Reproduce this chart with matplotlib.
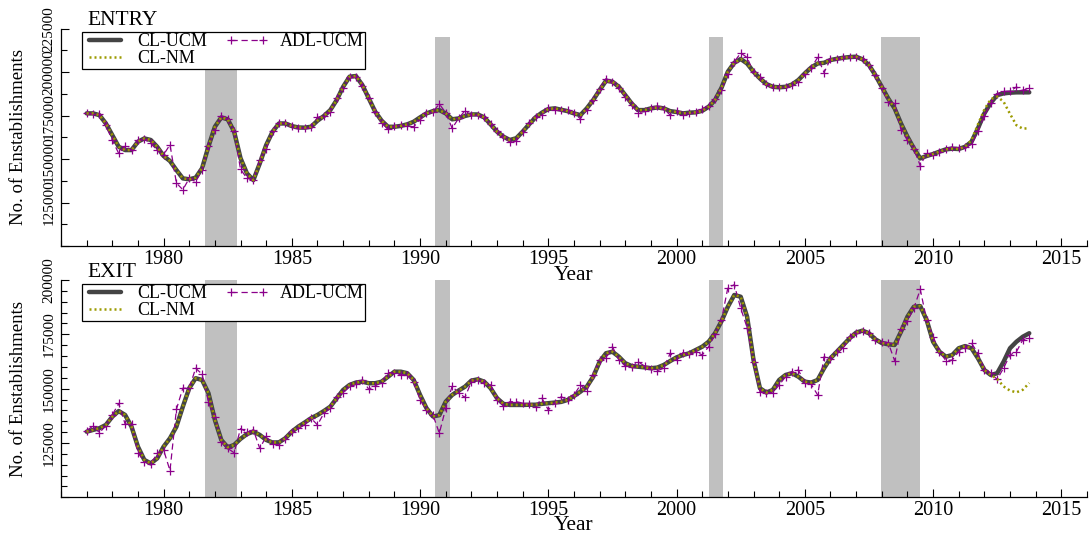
import numpy as np
import matplotlib
matplotlib.use("Agg")
import matplotlib.pyplot as plt
from matplotlib.ticker import MultipleLocator, FuncFormatter

plt.rcParams['font.family'] = ['Liberation Serif', 'DejaVu Serif']

# quarterly observations, 1977Q1 - 2013Q4 (values in thousands of establishments)
quarters = 1977 + np.arange(148) / 4.0

entry_cl_ucm = [
    176.3, 176.3, 175.3, 170.5,  163.8, 157.1, 155.2, 155.2,  160.0, 161.9, 161.0, 157.1,
    151.8, 148.9, 143.7, 138.9,  138.4, 139.3, 144.7, 157.3,  168.6, 174.0, 172.9, 165.8,
    150.5, 141.8, 137.9, 147.5,  158.1, 165.8, 170.5, 170.5,  169.0, 168.2, 168.1, 168.6,
    172.1, 174.8, 178.2, 184.0,  191.6, 197.4, 197.8, 192.6,  184.9, 177.3, 172.1, 168.6,
    168.6, 169.1, 170.0, 171.5,  174.0, 176.3, 177.6, 178.2,  176.3, 172.9, 173.4, 174.8,
    175.7, 175.7, 174.0, 170.0,  165.8, 162.9, 161.0, 162.0,  165.8, 170.0, 174.0, 176.7,
    178.8, 179.2, 178.4, 177.6,  176.3, 175.3, 179.2, 184.0,  189.7, 195.1, 194.5, 191.6,
    186.8, 182.0, 178.2, 178.2,  179.2, 179.7, 179.2, 177.6,  177.1, 176.3, 176.7, 176.9,
    177.8, 180.1, 184.0, 191.0,  200.3, 205.4, 207.6, 205.0,  200.3, 196.4, 193.2, 191.6,
    191.3, 191.6, 192.9, 195.5,  199.3, 202.7, 205.0, 205.4,  207.0, 207.7, 208.3, 208.7,
    208.9, 207.4, 204.1, 198.3,  191.6, 184.9, 179.2, 170.5,  162.9, 156.2, 150.4, 151.8,
    152.9, 154.3, 155.6, 156.0,  155.8, 157.1, 160.0, 167.7,  176.3, 182.4, 186.8, 187.8,
    188.2, 188.4, 188.4, 188.4,
]
entry_adl_ucm = [
    176.3, 175.9, 175.9, 169.5,  160.9, 153.3, 157.5, 155.2,  160.9, 161.5, 159.0, 155.2,
    152.5, 158.3, 136.2, 132.4,  138.9, 137.0, 143.7, 157.5,  166.7, 175.0, 172.9, 166.0,
    144.1, 139.0, 138.0, 149.5,  156.0, 166.0, 171.0, 170.5,  169.0, 168.0, 168.0, 168.5,
    174.0, 175.0, 177.0, 185.0,  191.0, 197.5, 197.5, 192.0,  185.0, 177.0, 171.0, 167.1,
    169.0, 169.5, 169.0, 168.6,  172.6, 176.3, 177.3, 181.7,  176.7, 167.7, 173.4, 177.8,
    175.3, 175.5, 174.0, 170.0,  166.0, 162.5, 160.0, 160.5,  165.8, 170.5, 174.4, 175.5,
    179.6, 178.5, 178.5, 178.0,  176.5, 173.2, 178.5, 184.0,  190.5, 196.2, 194.5, 191.0,
    186.0, 181.0, 176.7, 177.5,  179.5, 180.5, 179.0, 175.3,  177.5, 175.5, 176.7, 177.0,
    179.0, 180.5, 184.5, 190.0,  199.0, 206.0, 211.0, 208.5,  200.0, 197.5, 193.0, 191.5,
    191.5, 191.7, 192.7, 194.5,  199.0, 202.5, 208.5, 199.8,  207.5, 207.5, 208.5, 208.7,
    209.0, 207.5, 204.0, 198.5,  191.0, 183.0, 182.0, 166.8,  161.0, 156.0, 146.2, 153.5,
    152.5, 154.0, 156.0, 157.0,  156.5, 157.0, 158.5, 166.0,  175.0, 182.0, 187.5, 189.0,
    189.0, 191.5, 189.5, 191.0,
]
# CL-NM coincides with CL-UCM until 2011Q3, then turns down
entry_cl_nm = entry_cl_ucm[:138] + [161.0, 170.0, 178.5, 184.5, 186.0, 183.0, 176.0, 169.5, 167.5, 167.8]

exit_cl_ucm = [
    130.2, 131.0, 131.8, 133.3,  137.1, 139.7, 137.9, 132.5,  123.3, 117.2, 115.6, 117.9,
    123.3, 127.2, 132.5, 141.7,  150.2, 154.8, 154.0, 147.9,  135.6, 126.4, 123.0, 124.1,
    126.9, 129.1, 130.2, 128.7,  126.4, 125.2, 125.3, 127.2,  130.2, 132.5, 134.4, 136.4,
    137.9, 139.7, 141.7, 145.6,  149.4, 151.7, 152.8, 153.2,  152.5, 152.5, 153.2, 155.5,
    157.8, 157.8, 157.1, 154.0,  147.1, 141.0, 137.2, 137.8,  144.0, 147.1, 149.1, 150.9,
    153.7, 154.3, 153.2, 150.2,  145.6, 143.0, 142.5, 142.5,  142.5, 142.6, 142.6, 143.0,
    143.3, 143.6, 143.9, 144.8,  146.6, 148.6, 150.9, 155.5,  162.4, 166.3, 167.0, 164.7,
    161.7, 160.4, 160.1, 159.8,  159.4, 159.7, 160.9, 162.7,  164.4, 165.5, 166.3, 167.8,
    169.3, 171.6, 175.5, 181.0,  187.7, 193.1, 192.3, 183.1,  163.2, 150.2, 148.2, 149.4,
    154.0, 156.3, 157.1, 155.5,  153.2, 152.8, 154.0, 159.4,  164.0, 167.0, 170.1, 173.2,
    175.8, 176.7, 175.5, 172.7,  171.0, 170.4, 170.1, 176.2,  183.1, 187.7, 188.0, 181.6,
    171.6, 167.0, 164.7, 165.5,  168.6, 169.6, 168.6, 164.0,  158.6, 156.3, 157.1, 162.4,
    168.6, 171.6, 173.9, 175.5,
]
exit_adl_ucm = [
    130.7, 132.8, 129.7, 133.0,  137.9, 143.2, 133.7, 133.7,  120.5, 116.4, 115.3, 120.2,
    121.8, 112.3, 140.5, 150.2,  150.2, 159.4, 156.7, 144.0,  137.1, 125.6, 122.5, 120.5,
    131.6, 130.0, 131.0, 122.5,  128.0, 124.5, 124.1, 127.0,  130.0, 131.8, 133.3, 136.4,
    133.3, 138.7, 141.0, 146.3,  148.0, 151.0, 152.0, 154.0,  149.7, 151.3, 152.8, 157.4,
    157.2, 156.4, 156.4, 153.2,  145.0, 140.0, 138.0, 129.5,  141.0, 151.2, 148.0, 146.0,
    153.2, 154.0, 152.8, 151.7,  144.8, 142.2, 144.0, 144.0,  143.3, 143.0, 141.7, 145.6,
    140.2, 143.5, 146.3, 144.8,  147.0, 151.7, 149.1, 156.3,  163.2, 164.0, 169.3, 163.2,
    160.4, 160.1, 162.4, 160.4,  158.9, 158.3, 159.4, 166.3,  163.2, 166.6, 166.0, 167.0,
    165.5, 169.3, 175.0, 181.6,  196.5, 197.8, 187.0, 178.1,  162.4, 148.6, 148.2, 148.1,
    151.7, 155.5, 157.7, 158.6,  152.5, 152.0, 147.1, 164.7,  163.5, 166.8, 168.5, 174.0,
    175.5, 176.5, 175.5, 172.4,  171.6, 171.2, 162.9, 177.6,  181.1, 187.0, 195.7, 181.6,
    174.0, 167.0, 162.9, 163.2,  167.0, 168.6, 170.9, 166.3,  158.6, 157.0, 154.3, 159.5,
    165.5, 167.0, 172.5, 173.2,
]
exit_cl_nm = exit_cl_ucm[:142] + [154.5, 151.0, 149.1, 148.3, 149.5, 152.6]

# NBER recessions
recession_start = [1981.6, 1990.58, 2001.27, 2007.97]
recession_end = [1982.87, 1991.17, 2001.82, 2009.49]

fig = plt.figure(figsize=(10.91, 5.36), dpi=100)
ax_entry = fig.add_axes([0.0559, 0.5410, 0.9404, 0.4054])
ax_exit = fig.add_axes([0.0559, 0.0722, 0.9404, 0.4054])


def draw_panel(ax, title, ucm, nm, adl, ylim, ytick_minor, band_top, legend_top):
    k = 1000.0
    for s, e in zip(recession_start, recession_end):
        ax.axvspan(s, e, ymin=0, ymax=band_top, color='#c0c0c0', lw=0, zorder=0)

    ax.plot(quarters, np.array(ucm) * k, color='#444444', lw=3.2, solid_capstyle='round',
            label='CL-UCM', zorder=2)
    ax.plot(quarters, np.array(adl) * k, color='#8b008b', lw=0.9, ls=(0, (5, 3)),
            marker='+', ms=5.5, mew=0.9, label='ADL-UCM', zorder=3)
    ax.plot(quarters, np.array(nm) * k, color='#9c9a00', lw=1.8, ls=(0, (0.8, 1.2)),
            label='CL-NM', zorder=4)

    ax.set_xlim(1976, 2016)
    ax.set_ylim(*ylim)
    ax.xaxis.set_major_locator(MultipleLocator(5))
    ax.xaxis.set_minor_locator(MultipleLocator(1))
    ax.yaxis.set_major_locator(MultipleLocator(25000))
    ax.yaxis.set_minor_locator(MultipleLocator(ytick_minor))
    ax.yaxis.set_major_formatter(FuncFormatter(
        lambda v, p: '' if v <= ylim[0] + 1 else '%d' % v))
    ax.tick_params(which='both', direction='in', width=0.8, colors='black')
    ax.tick_params(which='major', length=6)
    ax.tick_params(which='minor', length=4)
    ax.tick_params(axis='x', labelsize=14.5, pad=3)
    ax.tick_params(axis='y', labelsize=11, pad=4)
    for lab in ax.get_yticklabels():
        lab.set_rotation(90)
        lab.set_va('center')

    for side in ('top', 'right'):
        ax.spines[side].set_visible(False)
    for side in ('left', 'bottom'):
        ax.spines[side].set_linewidth(0.9)

    ax.text(0.0253, 1.016, title, transform=ax.transAxes, fontsize=15.5,
            ha='left', va='baseline')

    handles, labels = ax.get_legend_handles_labels()
    order = [0, 2, 1]
    leg = ax.legend([handles[i] for i in order], [labels[i] for i in order],
                    ncol=2, loc='upper left', bbox_to_anchor=(0.0205, legend_top),
                    borderaxespad=0, frameon=True, fancybox=False, framealpha=1,
                    edgecolor='black', fontsize=13, handlelength=2.4,
                    handletextpad=0.6, columnspacing=1.0, labelspacing=0.0,
                    borderpad=0.08, numpoints=2)
    leg.get_frame().set_linewidth(0.9)
    leg.set_zorder(10)


draw_panel(ax_entry, 'ENTRY', entry_cl_ucm, entry_cl_nm, entry_adl_ucm,
           (100000, 225000), 12500, 0.96, 0.985)
draw_panel(ax_exit, 'EXIT', exit_cl_ucm, exit_cl_nm, exit_adl_ucm,
           (100000, 200000), 5000, 1.0, 0.982)

for yc, yb in ((137.3, 280), (388.7, 530)):
    fig.text(18.5 / 1091, 1 - yc / 536, 'No. of Enstablishments', rotation=90,
             ha='center', va='center', fontsize=13.5)
    fig.text(574 / 1091, 1 - yb / 536, 'Year', ha='center', va='baseline', fontsize=15.5)

fig.savefig('out.png', dpi=100)
